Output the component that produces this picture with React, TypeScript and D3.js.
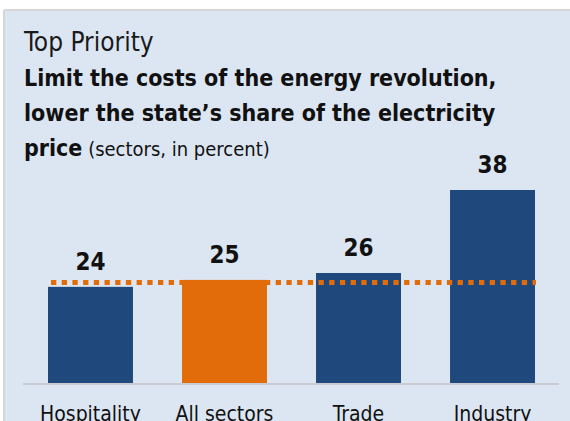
import * as d3 from "d3";

const categories = ["Hospitality", "All sectors", "Trade", "Industry"];
const values = [24, 25, 26, 38];
const highlight = "All sectors";
const kicker = "Top Priority";
const titleLines = [
  "Limit the costs of the energy revolution,",
  "lower the state\u2019s share of the electricity",
];
const titleLast = "price";
const subtitle = "(sectors, in percent)";

const W = 570;
const H = 421;
const FONT = "'DejaVu Sans Condensed', 'Open Sans', sans-serif";

export default function App() {
  const x = d3.scaleBand<string>().domain(categories).range([48, 535]).paddingInner(0.366).paddingOuter(0);
  const y = d3.scaleLinear().domain([10.1, 38]).range([383, 190]);
  const avg = values[categories.indexOf(highlight)];

  return (
    <svg width={W} height={H} style={{ position: "absolute", left: 0, top: 0 }} fontFamily={FONT}>
      <rect width={W} height={H} fill="#fff" />
      <rect x={5} y={11} width={W - 5} height={H - 11} fill="#dce6f2" />
      <line x1={4} x2={W} y1={10} y2={10} stroke="#d6d6d6" strokeWidth={2} />
      <line x1={4} x2={4} y1={10} y2={H} stroke="#d6d6d6" strokeWidth={2} />

      <text x={24} y={51} fontSize={26} fill="#1a1a1a">{kicker}</text>
      {titleLines.map((t, i) => (
        <text key={i} x={24} y={86 + i * 35} fontSize={23} fontWeight="bold" fill="#111">{t}</text>
      ))}
      <text x={24} y={156} fill="#111">
        <tspan fontSize={23} fontWeight="bold">{titleLast}</tspan>
        <tspan fontSize={20}> {subtitle}</tspan>
      </text>

      <line x1={23} x2={559} y1={384} y2={384} stroke="#c8ccd2" strokeWidth={2} />

      {categories.map((c, i) => (
        <g key={c}>
          <rect
            x={x(c)}
            y={y(values[i])}
            width={x.bandwidth()}
            height={y(10.1) - y(values[i])}
            fill={c === highlight ? "#e36c0a" : "#1f497d"}
          />
          <text
            x={(x(c) ?? 0) + x.bandwidth() / 2}
            y={y(values[i]) - 17}
            textAnchor="middle"
            fontSize={24}
            fontWeight="bold"
            fill="#111"
          >
            {values[i]}
          </text>
          <text x={(x(c) ?? 0) + x.bandwidth() / 2} y={421} textAnchor="middle" fontSize={21} fill="#111">
            {c}
          </text>
        </g>
      ))}

      <line
        x1={51}
        x2={536}
        y1={y(avg) + 2.5}
        y2={y(avg) + 2.5}
        stroke="#e36c0a"
        strokeWidth={5}
        strokeDasharray="5.3 5.4"
      />
    </svg>
  );
}
